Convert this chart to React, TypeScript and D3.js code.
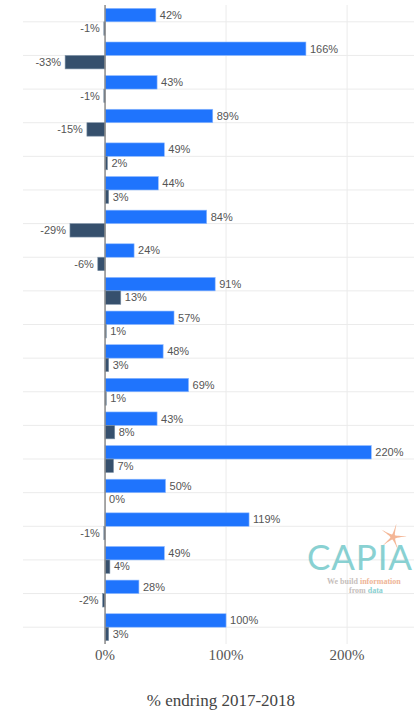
import React from "react";
import * as d3 from "d3";

const categories = [
  "K1", "K2", "K3", "K4", "K5", "K6", "K7", "K8", "K9", "K10",
  "K11", "K12", "K13", "K14", "K15", "K16", "K17", "K18", "K19",
];
const seriesA = [42, 166, 43, 89, 49, 44, 84, 24, 91, 57, 48, 69, 43, 220, 50, 119, 49, 28, 100];
const seriesB = [-1, -33, -1, -15, 2, 3, -29, -6, 13, 1, 3, 1, 8, 7, 0, -1, 4, -2, 3];
const xTicks = [0, 100, 200];
const xTitle = "% endring 2017-2018";

const W = 414;
const H = 712;
const plotLeft = 23;
const plotRight = 414;
const plotTop = 5;
const plotBottom = 644;

export default function App() {
  const x = d3.scaleLinear().domain([-67.8, 255.3]).range([plotLeft, plotRight]);
  const y = d3
    .scaleBand<string>()
    .domain(categories)
    .range([plotTop, plotBottom])
    .paddingInner(0.2)
    .paddingOuter(0.1);
  const sub = d3.scaleBand<string>().domain(["a", "b"]).range([0, y.bandwidth()]);
  const x0 = x(0);
  const blue = "#1f74fd";
  const dark = "#36506d";
  const fmt = (v: number) => `${v}%`;

  const label = (v: number, yc: number, key: string) => {
    const pos = v >= 0;
    return (
      <text
        key={key}
        x={pos ? x(v) + 4 : x(v) - 4}
        y={yc}
        dy="0.35em"
        textAnchor={pos ? "start" : "end"}
        fontFamily="'Liberation Sans', Arial, sans-serif"
        fontSize={11}
        fill="#555"
      >
        {fmt(v)}
      </text>
    );
  };

  // starfish path
  const star = (() => {
    const cx = 393, cy = 537, R = 13.5, r = 2.6;
    const pts: [number, number][] = [];
    for (let i = 0; i < 10; i++) {
      const ang = -Math.PI / 2 + (i * Math.PI) / 5 + 0.25;
      const rad = i % 2 === 0 ? R : r;
      pts.push([cx + rad * Math.cos(ang), cy + rad * Math.sin(ang)]);
    }
    return d3.line().curve(d3.curveCardinalClosed.tension(0.6))(pts) || "";
  })();

  return (
    <svg
      width={W}
      height={H}
      style={{ position: "fixed", left: 0, top: 0, background: "#fff" }}
    >
      {/* horizontal gridlines */}
      {categories.map((c) => {
        const yc = (y(c) as number) + y.bandwidth() / 2;
        return (
          <line key={"g" + c} x1={plotLeft} x2={plotRight} y1={yc} y2={yc} stroke="#ebebeb" strokeWidth={1} />
        );
      })}
      {/* vertical gridlines */}
      {xTicks.filter((t) => t !== 0).map((t) => (
        <line key={"v" + t} x1={x(t)} x2={x(t)} y1={plotTop} y2={plotBottom} stroke="#ebebeb" strokeWidth={1} />
      ))}

      {/* logo */}
      <g opacity={0.8}>
        <path d={star} fill="#f2a57c" />
        <text
          x={307}
          y={570}
          fontFamily="Lato, 'Open Sans', sans-serif"
          fontWeight={400}
          fontSize={35}
          textLength={105}
          lengthAdjust="spacing"
          fill="#6cc6c8"
        >
          CAPIA
        </text>
        <text x={327} y={584} fontFamily="'Liberation Serif', serif" fontWeight="bold" fontSize={8} fill="#b8b0ac">
          We build <tspan fill="#eba27c">information</tspan>
        </text>
        <text x={349} y={593} fontFamily="'Liberation Serif', serif" fontWeight="bold" fontSize={8} fill="#b8b0ac">
          from <tspan fill="#6cc6c8">data</tspan>
        </text>
      </g>

      {/* bars */}
      {categories.map((c, i) => {
        const yb = y(c) as number;
        const ya = yb + (sub("a") as number);
        const yd = yb + (sub("b") as number);
        const a = seriesA[i];
        const b = seriesB[i];
        return (
          <g key={"b" + c}>
            <rect
              x={Math.min(x0, x(a))}
              y={ya}
              width={Math.abs(x(a) - x0)}
              height={sub.bandwidth()}
              fill={blue}
              stroke="#8fbaff"
              strokeWidth={0.6}
            />
            <rect
              x={Math.min(x0, x(b))}
              y={yd}
              width={Math.abs(x(b) - x0)}
              height={sub.bandwidth()}
              fill={dark}
              stroke="#7f93a8"
              strokeWidth={0.6}
            />
            {label(a, ya + sub.bandwidth() / 2, "la" + c)}
            {label(b, yd + sub.bandwidth() / 2, "lb" + c)}
          </g>
        );
      })}

      {/* zero line */}
      <line x1={x0} x2={x0} y1={plotTop} y2={plotBottom} stroke="#8a8a8a" strokeWidth={1.5} />

      {/* x tick labels */}
      {xTicks.map((t) => (
        <text
          key={"t" + t}
          x={x(t)}
          y={660}
          textAnchor="middle"
          fontFamily="'Liberation Serif', 'Times New Roman', serif"
          fontSize={15}
          fill="#555"
        >
          {fmt(t)}
        </text>
      ))}
      <text
        x={221}
        y={706}
        textAnchor="middle"
        fontFamily="'Liberation Serif', 'Times New Roman', serif"
        fontSize={17}
        fill="#444"
      >
        {xTitle}
      </text>
    </svg>
  );
}
